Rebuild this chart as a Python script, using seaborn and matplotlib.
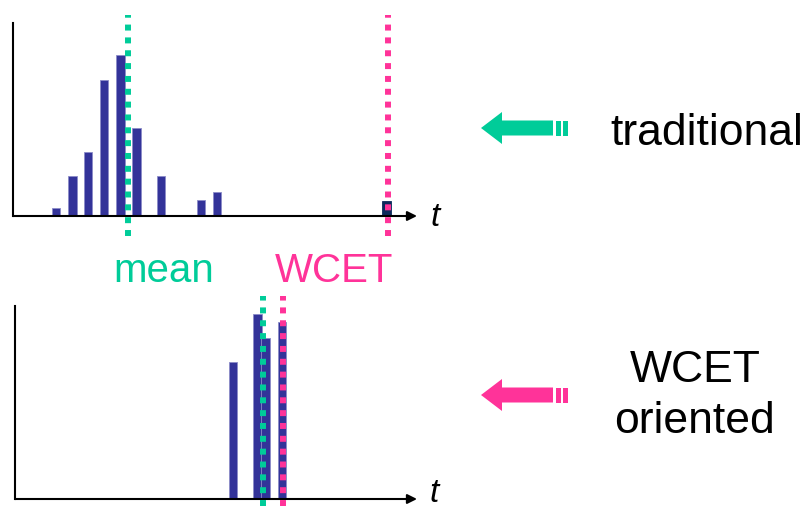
import matplotlib
matplotlib.use("Agg")
import matplotlib.pyplot as plt
from matplotlib.patches import Polygon, Rectangle
import seaborn as sns

# execution-time distributions (t in arbitrary units, count in arbitrary units)
top_t = [43, 59.5, 75, 91, 107.5, 123.5, 148, 188, 204, 373.5]
top_count = [8, 40, 64, 136, 161, 88, 40, 16, 24, 15]
bottom_t = [218, 242.5, 250.5, 267]
bottom_count = [137, 185, 161, 177]

top_mean, top_wcet = 115, 375
bottom_mean, bottom_wcet = 248, 268

bar_color = '#333399'
outlier_color = '#0d2a5c'
green = '#00cc99'
pink = '#ff3399'

sns.set_style('white')
plt.rcParams['font.family'] = ['Liberation Sans', 'DejaVu Sans']
plt.rcParams['text.color'] = 'black'

W, H = 807, 510
fig = plt.figure(figsize=(W / 100, H / 100), dpi=100)


def px_axes(left, top, right, bottom):
    return fig.add_axes([left / W, 1 - bottom / H, (right - left) / W, (bottom - top) / H])


ax1 = px_axes(13, 24, 417, 217)
ax2 = px_axes(15, 307, 417, 500)

sns.barplot(x=top_t, y=top_count, native_scale=True, width=8.5 / 15.5, color=bar_color,
            errorbar=None, edgecolor='#8c8cc8', linewidth=0.6, saturation=1, ax=ax1)
last = ax1.patches[-1]
last.set_facecolor(outlier_color)
last.set_edgecolor(outlier_color)
sns.barplot(x=bottom_t, y=bottom_count, native_scale=True, width=8.5 / 8, color=bar_color,
            errorbar=None, edgecolor='#8c8cc8', linewidth=0.6, saturation=1, ax=ax2)

ax1.set_xlim(0, 404)
ax2.set_xlim(0, 402)
for ax in (ax1, ax2):
    ax.set_ylim(0, 193)
    ax.set_xticks([])
    ax.set_yticks([])
    ax.set_xlabel('')
    ax.set_ylabel('')
    for s in ('top', 'right', 'bottom'):
        ax.spines[s].set_visible(False)
    ax.spines['left'].set_color('black')
    ax.spines['left'].set_linewidth(1.5)
    ax.annotate('', xy=(1, 0), xytext=(0, 0), xycoords='axes fraction',
                arrowprops=dict(arrowstyle='-|>', lw=1.5, color='black',
                                mutation_scale=14, shrinkA=0, shrinkB=0))

dot = dict(lw=4.3, linestyle=(0, (1, 1.15)), dash_capstyle='butt', clip_on=False, zorder=5)
ax1.axvline(top_mean, ymin=-0.104, ymax=1.041, color=green, **dot)
ax1.axvline(top_wcet, ymin=-0.104, ymax=1.041, color=pink, **dot)
ax2.axvline(bottom_mean, ymin=-0.036, ymax=1.052, color=green, **dot)
ax2.axvline(bottom_wcet, ymin=-0.036, ymax=1.052, color=pink, **dot)


def ftext(x, y, s, **kw):
    fig.text(x / W, 1 - y / H, s, va='baseline', **kw)


ftext(430, 226, 't', fontsize=24, style='italic', ha='left')
ftext(429, 502, 't', fontsize=24, style='italic', ha='left')
ftext(164, 282, 'mean', fontsize=29, color=green, ha='center')
ftext(334.5, 282, 'WCET', fontsize=29, color=pink, ha='center')
ftext(706.5, 145, 'traditional', fontsize=32, ha='center')
ftext(695, 382, 'WCET', fontsize=32, ha='center')
ftext(695, 433, 'oriented', fontsize=32, ha='center')


def pf(x, y):
    return (x / W, 1 - y / H)


def big_arrow(c, color):
    pts = [pf(481, c), pf(502, c - 16), pf(502, c - 7.5), pf(553, c - 7.5),
           pf(553, c + 7.5), pf(502, c + 7.5), pf(502, c + 16)]
    fig.add_artist(Polygon(pts, closed=True, facecolor=color, edgecolor='none',
                           transform=fig.transFigure))
    for x0, x1 in ((556, 561), (563, 568)):
        fig.add_artist(Rectangle(pf(x0, c + 7.5), (x1 - x0) / W, 15 / H, facecolor=color,
                                 edgecolor='none', transform=fig.transFigure))


big_arrow(129, green)
big_arrow(396, pink)

fig.savefig('out.png', dpi=100)
